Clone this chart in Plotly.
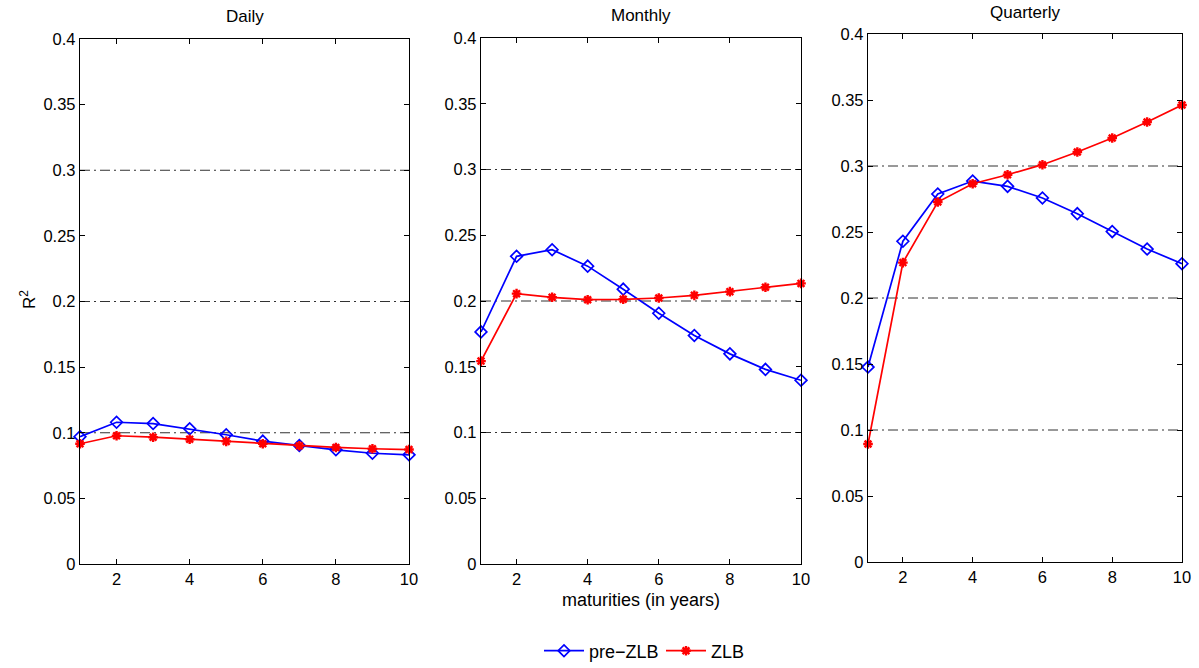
import plotly.graph_objects as go

maturities = [1, 2, 3, 4, 5, 6, 7, 8, 9, 10]
panel_titles = ["Daily", "Monthly", "Quarterly"]

daily_pre = [0.097, 0.108, 0.107, 0.103, 0.0985, 0.0936, 0.0903, 0.087, 0.0844, 0.0832]
daily_zlb = [0.0916, 0.0977, 0.0966, 0.0951, 0.0934, 0.0916, 0.0901, 0.0888, 0.0878, 0.0872]
monthly_pre = [0.1765, 0.234, 0.239, 0.2265, 0.209, 0.1907, 0.1738, 0.1598, 0.148, 0.1397]
monthly_zlb = [0.1543, 0.2056, 0.2028, 0.201, 0.2013, 0.2023, 0.2043, 0.2071, 0.2104, 0.2134]
quarterly_pre = [0.1477, 0.243, 0.2788, 0.2886, 0.2846, 0.2758, 0.2639, 0.2503, 0.2371, 0.226]
quarterly_zlb = [0.0894, 0.2268, 0.2727, 0.2866, 0.2934, 0.301, 0.3106, 0.3212, 0.3333, 0.3462]

ref_levels = [0.1, 0.2, 0.3]
y_ticks = [0, 0.05, 0.1, 0.15, 0.2, 0.25, 0.3, 0.35, 0.4]
y_tick_text = ["0", "0.05", "0.1", "0.15", "0.2", "0.25", "0.3", "0.35", "0.4"]
x_ticks = [2, 4, 6, 8, 10]

W, H = 1199, 668
FONT = "Liberation Sans, Arial, sans-serif"
TICK_SIZE = 16.5

pre_series = [daily_pre, monthly_pre, quarterly_pre]
zlb_series = [daily_zlb, monthly_zlb, quarterly_zlb]

# pixel boxes (left, right, top, bottom)
boxes = [(80, 409, 39, 564), (481, 801, 38, 564), (868, 1182, 34, 562)]

fig = go.Figure()
for i in range(3):
    sfx = "" if i == 0 else str(i + 1)
    fig.add_trace(go.Scatter(
        x=maturities, y=pre_series[i], mode="lines+markers", name="pre\u2212ZLB",
        line=dict(color="rgb(0,0,255)", width=1.7),
        marker=dict(symbol="diamond-open", size=9, color="rgb(0,0,255)", line=dict(width=1.7, color="rgb(0,0,255)")),
        xaxis="x" + sfx, yaxis="y" + sfx, showlegend=(i == 0), legendgroup="pre", cliponaxis=False))
    fig.add_trace(go.Scatter(
        x=maturities, y=zlb_series[i], mode="lines+markers", name="ZLB",
        line=dict(color="rgb(255,0,0)", width=1.7),
        marker=dict(symbol="asterisk-open", size=8, color="rgb(255,0,0)", line=dict(width=2.4, color="rgb(255,0,0)")),
        xaxis="x" + sfx, yaxis="y" + sfx, showlegend=(i == 0), legendgroup="zlb", cliponaxis=False))

layout = dict(
    autosize=True, margin=dict(l=0, r=0, t=0, b=0, autoexpand=False),
    paper_bgcolor="white", plot_bgcolor="white",
    font=dict(family=FONT, size=17, color="black"),
    showlegend=True,
    legend=dict(orientation="h", x=539 / W, y=(H - 651) / H, xanchor="left", yanchor="middle",
                font=dict(size=18), itemwidth=40, entrywidth=67, bgcolor="rgba(0,0,0,0)", tracegroupgap=0),
)

annotations = []
shapes = []
for i, (l, r, t, b) in enumerate(boxes):
    sfx = "" if i == 0 else str(i + 1)
    xd = [l / W, r / W]
    yd = [(H - b) / H, (H - t) / H]
    layout["xaxis" + sfx] = dict(
        domain=xd, range=[1, 10], tickvals=x_ticks, ticks="inside", ticklen=5, tickcolor="black",
        showline=True, linecolor="black", linewidth=1.3, mirror="ticks", showgrid=False, zeroline=False,
        anchor="y" + sfx, tickfont=dict(size=TICK_SIZE))
    layout["yaxis" + sfx] = dict(
        domain=yd, range=[0, 0.4], tickvals=y_ticks, ticktext=y_tick_text, ticks="inside", ticklen=5,
        tickcolor="black", showline=True, linecolor="black", linewidth=1.3, mirror="ticks", showgrid=False,
        zeroline=False, anchor="x" + sfx, tickfont=dict(size=TICK_SIZE))
    for lv in ref_levels:
        shapes.append(dict(type="line", xref=("x" + sfx) + " domain", yref="y" + sfx, x0=0, x1=1, y0=lv, y1=lv,
                           line=dict(color="rgb(50,50,50)", width=1, dash="10px,4px,2px,4px"), layer="below"))
    annotations.append(dict(text=panel_titles[i], x=(l + r) / 2 / W, y=(H - (t - 22)) / H, xref="paper", yref="paper",
                            showarrow=False, font=dict(size=17), xanchor="center", yanchor="middle"))

annotations.append(dict(text="maturities (in years)", x=641 / W, y=(H - 600) / H, xref="paper", yref="paper",
                        showarrow=False, font=dict(size=18), xanchor="center", yanchor="middle"))
annotations.append(dict(text="R<sup>2</sup>", x=28 / W, y=(H - 300) / H, xref="paper", yref="paper",
                        showarrow=False, font=dict(size=17), textangle=-90, xanchor="center", yanchor="middle"))
layout["annotations"] = annotations
layout["shapes"] = shapes

fig.update_layout(**layout)
fig.write_html("out.html",
               config={"displayModeBar": False, "responsive": True},
               default_width="100vw", default_height="100vh",
               post_script="document.body.style.margin='0';document.body.style.padding='0';"
                           "document.documentElement.style.overflow='hidden';document.body.style.overflow='hidden';"
                           "window.dispatchEvent(new Event('resize'));")
